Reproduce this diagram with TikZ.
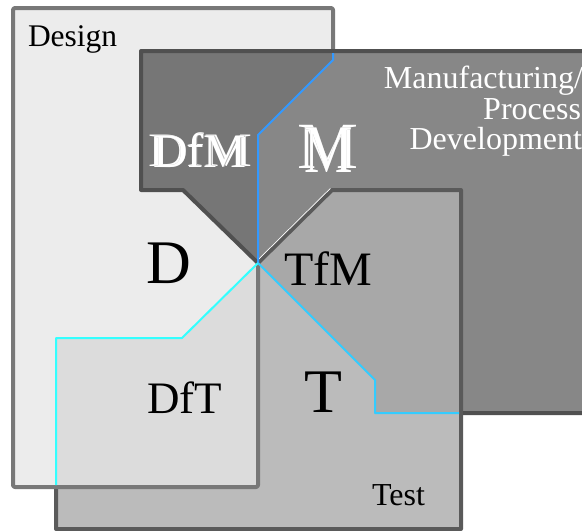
\documentclass[tikz,border=0pt]{standalone}
\usepackage{fontspec}
\setmainfont{Liberation Serif}
\usetikzlibrary{calc}
\definecolor{dfill}{HTML}{ECECEC}
\definecolor{dline}{HTML}{787878}
\definecolor{mfill}{HTML}{878787}
\definecolor{mline}{HTML}{505050}
\definecolor{dmfill}{HTML}{767676}
\definecolor{tfill}{HTML}{BBBBBB}
\definecolor{tline}{HTML}{5A5A5A}
\definecolor{tmfill}{HTML}{A8A8A8}
\definecolor{dtfill}{HTML}{DCDCDC}
\definecolor{dmedge}{HTML}{3399FF}
\definecolor{dtedge}{HTML}{33FFFF}
\definecolor{tmedge}{HTML}{33CCFF}
\definecolor{ghost}{HTML}{B4B4B4}
% a glyph run placed at an offset without taking up width
\newcommand{\overprint}[3]{\makebox[0pt][l]{\hspace*{#1}\raisebox{#2}{#3}}}
\begin{document}
\begin{tikzpicture}[x=1pt,y=-1pt,line join=round,
  border/.style={line width=4pt},
  seam/.style={line width=2pt},
  lbl/.style={inner sep=0pt,outer sep=0pt},
  fs/.style={font=\fontsize{#1}{#1}\selectfont}]
\clip (0,0) rectangle (582,531);
\fill[white] (0,0) rectangle (582,531);

% the three overlapping areas
\def\designpath{(13,8) -- (333,8) -- (333,60) -- (258,135) -- (258,487) -- (13,487) -- cycle}
\def\mfgpath{(141,51) -- (600,51) -- (600,413) -- (375,413) -- (375,380) -- (258,263) -- (183,190) -- (141,190) -- cycle}
\def\testpath{(258,263) -- (332,190) -- (461,190) -- (461,529) -- (56,529) -- (56,338) -- (182,338) -- cycle}

\coordinate (ctr) at (258,263);

\fill[dfill] \designpath;
\fill[mfill] \mfgpath;
\fill[tfill] \testpath;
\begin{scope}\clip \designpath; \fill[dmfill] \mfgpath; \end{scope}
\begin{scope}\clip \designpath; \fill[dtfill] \testpath; \end{scope}
\begin{scope}\clip \mfgpath; \fill[tmfill] \testpath; \end{scope}

% outer borders
\draw[border,tline] (ctr) -- (332,190) -- (461,190) -- (461,529) -- (56,529) -- (56,489);
\draw[white,line width=0.7pt] ($(ctr)+(-1.6,-1.6)$) -- (330.4,188.4);
\draw[border,dline,rounded corners=2pt] (ctr) -- (258,487) -- (13,487) -- (13,8) -- (333,8) -- (333,53);
\draw[border,mline] (463,413) -- (600,413) -- (600,51) -- (141,51) -- (141,190) -- (183,190) -- (ctr);

% boundaries inside the overlaps
\draw[seam,dmedge] (333,53) -- (333,60) -- (258,135) -- (ctr);
\draw[seam,dtedge] (ctr) -- (182,338) -- (56,338) -- (56,485);
\draw[seam,tmedge] (ctr) -- (375,380) -- (375,413) -- (459,413);

% area titles
\node[lbl,fs=31.5,anchor=base west] (design) at (28,46) {Design};
\node[lbl,fs=32,anchor=base east,white] (mfg1) at (583,88) {Manufacturing/};
\node[lbl,fs=32,anchor=base east,white] (mfg2) at (581,119) {Process};
\node[lbl,fs=32,anchor=base east,white] (mfg3) at (582,149) {Development};
\node[lbl,fs=32,anchor=base west] (test) at (372,505) {Test};

% overlap labels
\node[lbl,fs=62,anchor=base] (d) at (169,283) {D};
\node[lbl,fs=48,anchor=base west] (tfm) at (284,285) {TfM};
\node[lbl,fs=45,anchor=base west] (dft) at (147,413) {DfT};
\node[lbl,fs=62,anchor=base] (t) at (323.5,412) {T};

% doubled white lettering
\node[lbl,fs=48,anchor=base west,white] (dfm) at (148,166)
  {\overprint{0pt}{0pt}{\scalebox{1.12}[1]{DfM}}%
   \overprint{5.8pt}{-1.8pt}{\textcolor{ghost}{DfM}}%
   \overprint{5pt}{-1pt}{DfM}\phantom{\scalebox{1.12}[1]{DfM}}};
\node[lbl,fs=66,anchor=base west,white] (m) at (297,168)
  {\overprint{0pt}{0pt}{\scalebox{1.04}[1]{M}}%
   \overprint{7.9pt}{-4.8pt}{\textcolor{ghost}{\fontsize{68}{68}\selectfont\scalebox{0.8}[1]{M}}}%
   \overprint{7.1pt}{-4pt}{\fontsize{68}{68}\selectfont\scalebox{0.8}[1]{M}}\phantom{\scalebox{1.04}[1]{M}}};
\end{tikzpicture}
\end{document}
